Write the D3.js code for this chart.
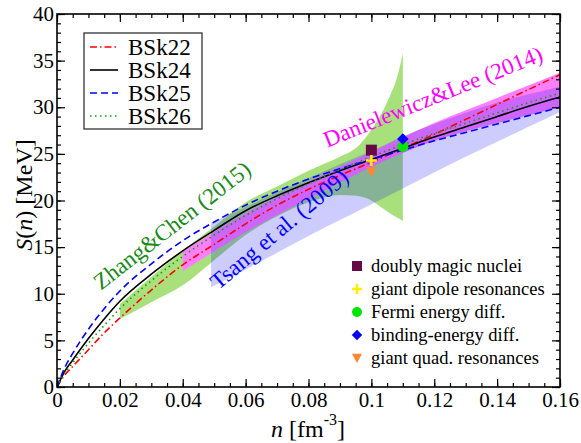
<!DOCTYPE html>
<html>
<head>
<meta charset="utf-8">
<script src="https://cdn.jsdelivr.net/npm/d3@7"></script>
<style>
  body { margin: 0; background: #fff; }
  text { font-family: "Liberation Serif", "Times New Roman", serif; }
</style>
</head>
<body>
<svg width="581" height="443"></svg>
<script>
// density grid (fm^-3) and S(n) in MeV for each functional
const nGrid = [0, 0.0025, 0.005, 0.01, 0.015, 0.02, 0.03, 0.04, 0.05, 0.06, 0.07, 0.08, 0.09, 0.10, 0.11, 0.12, 0.13, 0.14, 0.15, 0.16];
const bsk22 = [0, 1.3, 2.2, 4.0, 5.8, 7.4, 10.4, 13.1, 15.3, 17.5, 19.5, 21.2, 22.7, 24.1, 25.6, 27.1, 28.7, 30.3, 31.9, 33.5];
const bsk24 = [0, 1.7, 2.9, 5.2, 7.3, 9.2, 12.1, 14.6, 16.8, 18.9, 20.5, 21.9, 23.2, 24.4, 25.6, 26.8, 27.9, 29.0, 30.1, 31.1];
const bsk25 = [0, 2.1, 3.6, 6.2, 8.4, 10.3, 13.2, 15.7, 17.7, 19.5, 21.0, 22.3, 23.4, 24.4, 25.4, 26.4, 27.3, 28.2, 29.1, 30.0];
const bsk26 = [0, 1.5, 2.6, 4.7, 6.6, 8.4, 11.4, 14.0, 16.3, 18.4, 20.2, 21.8, 23.3, 24.7, 26.0, 27.2, 28.3, 29.4, 30.5, 31.5];

// constraint bands
const tsangN  = [0.049, 0.06, 0.07, 0.08, 0.09, 0.10, 0.11, 0.12, 0.13, 0.14, 0.15, 0.16];
const tsangLo = [10.7, 12.6, 14.4, 16.2, 17.9, 19.6, 21.3, 23.0, 24.7, 26.3, 27.9, 29.5];
const tsangHi = [17.6, 19.3, 20.9, 22.4, 23.9, 25.3, 26.9, 28.2, 29.4, 30.5, 31.4, 32.2];

const zhangN  = [0.02, 0.03, 0.04, 0.05, 0.06, 0.07, 0.08, 0.09, 0.095, 0.10, 0.103, 0.106, 0.108, 0.11];
const zhangLo = [7.3, 9.1, 10.9, 13.6, 16.3, 18.3, 19.8, 20.6, 20.5, 20.0, 19.3, 18.6, 18.2, 17.8];
const zhangHi = [8.9, 11.8, 14.6, 17.2, 19.8, 21.5, 23.2, 24.7, 25.6, 27.6, 29.2, 31.3, 33.0, 35.8];

const danN  = [0.04, 0.06, 0.08, 0.10, 0.12, 0.14, 0.16];
const danLo = [12.4, 16.6, 20.2, 23.6, 26.4, 28.3, 30.0];
const danHi = [14.5, 18.6, 22.0, 25.2, 28.3, 31.0, 33.7];

// experimental points
const ptNames = ["doubly magic nuclei", "giant dipole resonances", "Fermi energy diff.", "binding-energy diff.", "giant quad. resonances"];
const ptN = [0.1, 0.1, 0.11, 0.11, 0.1];
const ptS = [25.4, 24.3, 25.8, 26.6, 23.1];

const xTicks = [0, 0.02, 0.04, 0.06, 0.08, 0.1, 0.12, 0.14, 0.16];
const yTicks = [0, 5, 10, 15, 20, 25, 30, 35, 40];

const svg = d3.select("svg");
const mLeft = 57, mRight = 560, mTop = 14, mBottom = 387;

const x = d3.scaleLinear().domain([0, 0.16]).range([mLeft, mRight]);
const y = d3.scaleLinear().domain([0, 40]).range([mBottom, mTop]);

svg.append("clipPath").attr("id", "clip")
  .append("rect").attr("x", mLeft).attr("y", mTop)
  .attr("width", mRight - mLeft).attr("height", mBottom - mTop);

const plot = svg.append("g").attr("clip-path", "url(#clip)");

const band = (ns, lo, hi) => d3.area()
  .x((d, i) => x(ns[i]))
  .y0((d, i) => y(lo[i]))
  .y1((d, i) => y(hi[i]))
  .curve(d3.curveMonotoneX)(ns);

// Zhang&Chen band at the bottom, magenta band, then Tsang (translucent) over both
plot.append("path").attr("d", band(zhangN, zhangLo, zhangHi)).attr("fill", "#a8e07c");
plot.append("path").attr("d", band(danN, danLo, danHi)).attr("fill", "#ff80ff");
plot.append("path").attr("d", band(tsangN, tsangLo, tsangHi)).attr("fill", "#0000ff").attr("fill-opacity", 0.2);

const series = [
  { name: "BSk22", vals: bsk22, color: "#ff0000", dash: "7,3,1.5,3" },
  { name: "BSk24", vals: bsk24, color: "#000000", dash: null },
  { name: "BSk25", vals: bsk25, color: "#0000ff", dash: "7,4" },
  { name: "BSk26", vals: bsk26, color: "#119911", dash: "1.5,3.5" }
];

const line = vals => d3.line()
  .x((d, i) => x(nGrid[i]))
  .y((d, i) => y(vals[i]))
  .curve(d3.curveMonotoneX)(vals);

series.forEach(s => {
  plot.append("path")
    .attr("d", line(s.vals))
    .attr("fill", "none")
    .attr("stroke", s.color)
    .attr("stroke-width", 1.6)
    .attr("stroke-dasharray", s.dash);
});

// markers
const sym = (g, i, cx, cy, sz) => {
  if (i === 0) {
    g.append("rect").attr("x", cx - sz / 2).attr("y", cy - sz / 2)
      .attr("width", sz).attr("height", sz).attr("fill", "#650a45");
  } else if (i === 1) {
    g.append("path")
      .attr("d", `M${cx - sz / 2},${cy}H${cx + sz / 2}M${cx},${cy - sz / 2}V${cy + sz / 2}`)
      .attr("stroke", "#ffee00").attr("stroke-width", 2.5);
  } else if (i === 2) {
    g.append("circle").attr("cx", cx).attr("cy", cy).attr("r", sz / 2).attr("fill", "#00e600");
  } else if (i === 3) {
    g.append("path").attr("d", d3.symbol(d3.symbolSquare, sz * sz * 0.55)())
      .attr("transform", `translate(${cx},${cy}) rotate(45)`).attr("fill", "#0000ff");
  } else {
    g.append("path")
      .attr("d", `M${cx - sz / 2},${cy - sz / 2.4}L${cx + sz / 2},${cy - sz / 2.4}L${cx},${cy + sz / 2}Z`)
      .attr("fill", "#ff8833");
  }
};

const pts = svg.append("g");
[4, 0, 1, 2, 3].forEach(i => sym(pts, i, x(ptN[i]), y(ptS[i]), 11));

// rotated band labels
const label = (txt, n, s, ang, color) => {
  svg.append("text")
    .attr("transform", `translate(${x(n)},${y(s)}) rotate(${ang})`)
    .attr("text-anchor", "middle")
    .attr("dominant-baseline", "central")
    .attr("font-size", 23)
    .attr("fill", color)
    .text(txt);
};
label("Zhang&Chen (2015)", 0.0366, 17.3, -38, "#1a8a1a");
label("Tsang et al. (2009)", 0.0707, 16.9, -40, "#0000ff");
label("Danielewicz&Lee (2014)", 0.1196, 31.1, -22, "#ff00ff");

// axes
const fmtX = d => d === 0 ? "0" : String(+d.toFixed(2));
const minorX = d3.range(0, 0.1601, 0.005);
const minorY = d3.range(0, 40.1, 1);

const gx = svg.append("g").attr("transform", `translate(0,${mBottom})`)
  .call(d3.axisBottom(x).tickValues(xTicks).tickFormat(fmtX).tickSizeInner(-8).tickSizeOuter(0).tickPadding(5));
svg.append("g").attr("transform", `translate(0,${mBottom})`)
  .call(d3.axisBottom(x).tickValues(minorX).tickFormat("").tickSizeInner(-4).tickSizeOuter(0));
svg.append("g").attr("transform", `translate(0,${mTop})`)
  .call(d3.axisTop(x).tickValues(xTicks).tickFormat("").tickSizeInner(-8).tickSizeOuter(0));
svg.append("g").attr("transform", `translate(0,${mTop})`)
  .call(d3.axisTop(x).tickValues(minorX).tickFormat("").tickSizeInner(-4).tickSizeOuter(0));

const gy = svg.append("g").attr("transform", `translate(${mLeft},0)`)
  .call(d3.axisLeft(y).tickValues(yTicks).tickSizeInner(-8).tickSizeOuter(0).tickPadding(3));
svg.append("g").attr("transform", `translate(${mLeft},0)`)
  .call(d3.axisLeft(y).tickValues(minorY).tickFormat("").tickSizeInner(-4).tickSizeOuter(0));
svg.append("g").attr("transform", `translate(${mRight},0)`)
  .call(d3.axisRight(y).tickValues(yTicks).tickFormat("").tickSizeInner(-8).tickSizeOuter(0));
svg.append("g").attr("transform", `translate(${mRight},0)`)
  .call(d3.axisRight(y).tickValues(minorY).tickFormat("").tickSizeInner(-4).tickSizeOuter(0));

svg.selectAll(".domain").remove();
svg.selectAll(".tick line").attr("stroke", "#000").attr("stroke-width", 1.2);
gx.selectAll("text").attr("font-size", 21).attr("font-family", "Liberation Serif").attr("fill", "#000");
gy.selectAll("text").attr("font-size", 21).attr("font-family", "Liberation Serif").attr("fill", "#000");

svg.append("rect").attr("x", mLeft).attr("y", mTop)
  .attr("width", mRight - mLeft).attr("height", mBottom - mTop)
  .attr("fill", "none").attr("stroke", "#000").attr("stroke-width", 1.6);

// axis titles
const xt = svg.append("text").attr("x", 308).attr("y", 437)
  .attr("text-anchor", "middle").attr("font-size", 24);
xt.append("tspan").attr("font-style", "italic").text("n");
xt.append("tspan").text(" [fm");
xt.append("tspan").attr("font-size", 16).attr("dy", -12).text("-3");
xt.append("tspan").attr("dy", 12).text("]");

const yt = svg.append("text").attr("transform", "translate(32,195) rotate(-90)")
  .attr("text-anchor", "middle").attr("font-size", 24);
yt.append("tspan").attr("font-style", "italic").text("S");
yt.append("tspan").text("(");
yt.append("tspan").attr("font-style", "italic").text("n");
yt.append("tspan").text(") [MeV]");

// legend of functionals
svg.append("rect").attr("x", 84).attr("y", 33).attr("width", 118).attr("height", 96)
  .attr("fill", "#fff").attr("stroke", "#333").attr("stroke-width", 1.3);
series.forEach((s, i) => {
  const ly = 47 + i * 23;
  svg.append("line").attr("x1", 90).attr("x2", 118).attr("y1", ly).attr("y2", ly)
    .attr("stroke", s.color).attr("stroke-width", 1.6).attr("stroke-dasharray", s.dash);
  svg.append("text").attr("x", 128).attr("y", ly + 8).attr("font-size", 23).text(s.name);
});

// legend of experimental points
ptNames.forEach((nm, i) => {
  const ly = 266 + i * 23;
  sym(svg, i, 357, ly, 10);
  svg.append("text").attr("x", 371).attr("y", ly + 6).attr("font-size", 18.5).text(nm);
});
</script>
</body>
</html>
